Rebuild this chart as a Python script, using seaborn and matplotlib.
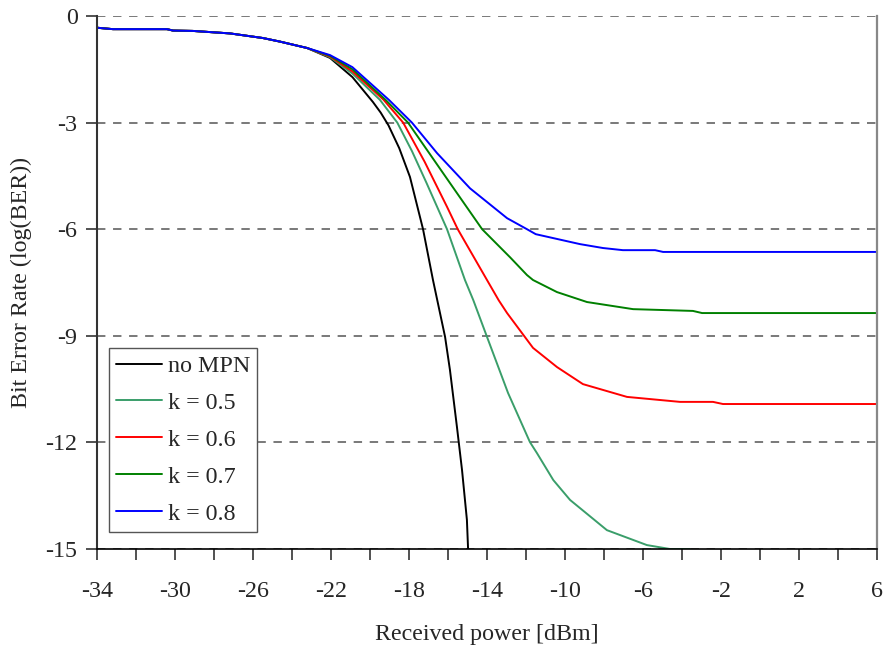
import numpy as np
import pandas as pd
import matplotlib
matplotlib.use("Agg")
import matplotlib.pyplot as plt
from matplotlib.ticker import MultipleLocator
import seaborn as sns

# Shared low-power section (all curves coincide here)
common_x = [-34.0, -33.18, -30.41, -30.1, -29.08, -27.18, -25.49, -24.62, -23.23]
common_y = [-0.33, -0.37, -0.37, -0.41, -0.42, -0.49, -0.62, -0.72, -0.90]

# Individual curves beyond the shared section
nompn_x = [-22.05, -20.9, -19.85, -19.45, -19.05, -18.5, -17.95, -17.28, -16.77, -16.15, -15.9, -15.54, -15.28, -15.03, -14.97]
nompn_y = [-1.18, -1.72, -2.42, -2.72, -3.08, -3.72, -4.53, -6.0, -7.43, -9.03, -9.96, -11.57, -12.78, -14.18, -15.0]

k05_x = [-22.05, -20.9, -19.49, -18.6, -17.85, -17.1, -16.05, -15.13, -14.7, -14.0, -12.92, -11.8, -11.44, -10.6, -9.74, -7.85, -5.8, -4.62, -3.6]
k05_y = [-1.16, -1.62, -2.36, -3.0, -3.8, -4.7, -6.0, -7.43, -8.0, -9.03, -10.61, -11.99, -12.3, -13.06, -13.62, -14.47, -14.89, -15.0, -15.0]

k06_x = [-22.05, -20.9, -19.3, -18.3, -17.2, -16.05, -15.5, -14.0, -13.4, -12.97, -11.64, -10.41, -9.08, -6.82, -4.1, -2.41, -1.9, 6.0]
k06_y = [-1.14, -1.56, -2.36, -3.0, -4.1, -5.37, -6.0, -7.43, -8.0, -8.36, -9.34, -9.88, -10.36, -10.72, -10.86, -10.86, -10.92, -10.92]

k07_x = [-22.05, -20.9, -19.2, -18.05, -15.9, -14.25, -12.8, -11.95, -11.64, -10.41, -8.87, -6.51, -3.44, -2.97, 6.0]
k07_y = [-1.12, -1.5, -2.36, -3.0, -4.7, -6.0, -6.8, -7.29, -7.43, -7.77, -8.05, -8.25, -8.30, -8.36, -8.36]

k08_x = [-22.05, -20.9, -19.03, -17.85, -16.56, -14.87, -12.97, -11.95, -11.5, -9.23, -8.05, -7.03, -5.38, -4.97, 6.0]
k08_y = [-1.10, -1.44, -2.36, -3.0, -3.86, -4.85, -5.69, -6.0, -6.14, -6.42, -6.53, -6.59, -6.59, -6.64, -6.64]

labels = ["no MPN", "k = 0.5", "k = 0.6", "k = 0.7", "k = 0.8"]
colors = ["#000000", "#3a9e6a", "#ff0000", "#008000", "#0000ff"]

x_ticks = list(range(-34, 7, 4))
y_ticks = list(range(-15, 1, 3))

series = [(nompn_x, nompn_y), (k05_x, k05_y), (k06_x, k06_y), (k07_x, k07_y), (k08_x, k08_y)]
frames = []
for lab, (xs, ys) in zip(labels, series):
    frames.append(pd.DataFrame({"power": common_x + xs, "logber": common_y + ys, "curve": lab}))
df = pd.concat(frames, ignore_index=True)

sns.set_style("white")
plt.rcParams["font.family"] = ["Liberation Serif", "DejaVu Serif"]
FS = 17.3

fig = plt.figure(figsize=(8.89, 6.48), dpi=100)
ax = fig.add_axes([0.1091, 0.1528, 0.8774, 0.8225])

sns.lineplot(data=df, x="power", y="logber", hue="curve", hue_order=labels,
             palette=colors, estimator=None, sort=False, linewidth=1.4, ax=ax)

ax.set_xlim(-34, 6)
ax.set_ylim(-15, 0)
ax.set_xticks(x_ticks)
ax.set_yticks(y_ticks)
ax.xaxis.set_minor_locator(MultipleLocator(2))
ax.set_xticklabels([str(v) for v in x_ticks], fontsize=FS)
ax.set_yticklabels([str(v) for v in y_ticks], fontsize=FS)

ax.tick_params(axis="x", which="both", direction="out", length=8, width=1.2,
               color="#333333", pad=15, bottom=True)
ax.tick_params(axis="y", which="major", direction="out", length=8, width=1.2,
               color="#333333", pad=6, left=True)

ax.yaxis.grid(True, linestyle=(0, (5.5, 5)), color="#555555", linewidth=1.1)
ax.xaxis.grid(False)
ax.set_axisbelow(True)

ax.spines["top"].set_visible(False)
ax.spines["right"].set_color("#888888")
ax.spines["right"].set_linewidth(1.6)
ax.spines["left"].set_color("#333333")
ax.spines["left"].set_linewidth(1.5)
ax.spines["bottom"].set_color("#000000")
ax.spines["bottom"].set_linewidth(1.2)

ax.set_xlabel("Received power [dBm]", fontsize=FS, labelpad=16)
ax.set_ylabel("Bit Error Rate (log(BER))", fontsize=FS, labelpad=10)

leg = ax.legend(loc="lower left", bbox_to_anchor=(0.0154, 0.0319), borderaxespad=0,
                fontsize=FS, frameon=True, fancybox=False, framealpha=1,
                edgecolor="#555555", handlelength=1.9, handletextpad=0.25,
                labelspacing=0.63, borderpad=0.3, title=None)
leg.get_frame().set_linewidth(1.0)
for h in leg.get_lines():
    h.set_linewidth(1.4)

fig.savefig("out.png", dpi=100, facecolor="white")
